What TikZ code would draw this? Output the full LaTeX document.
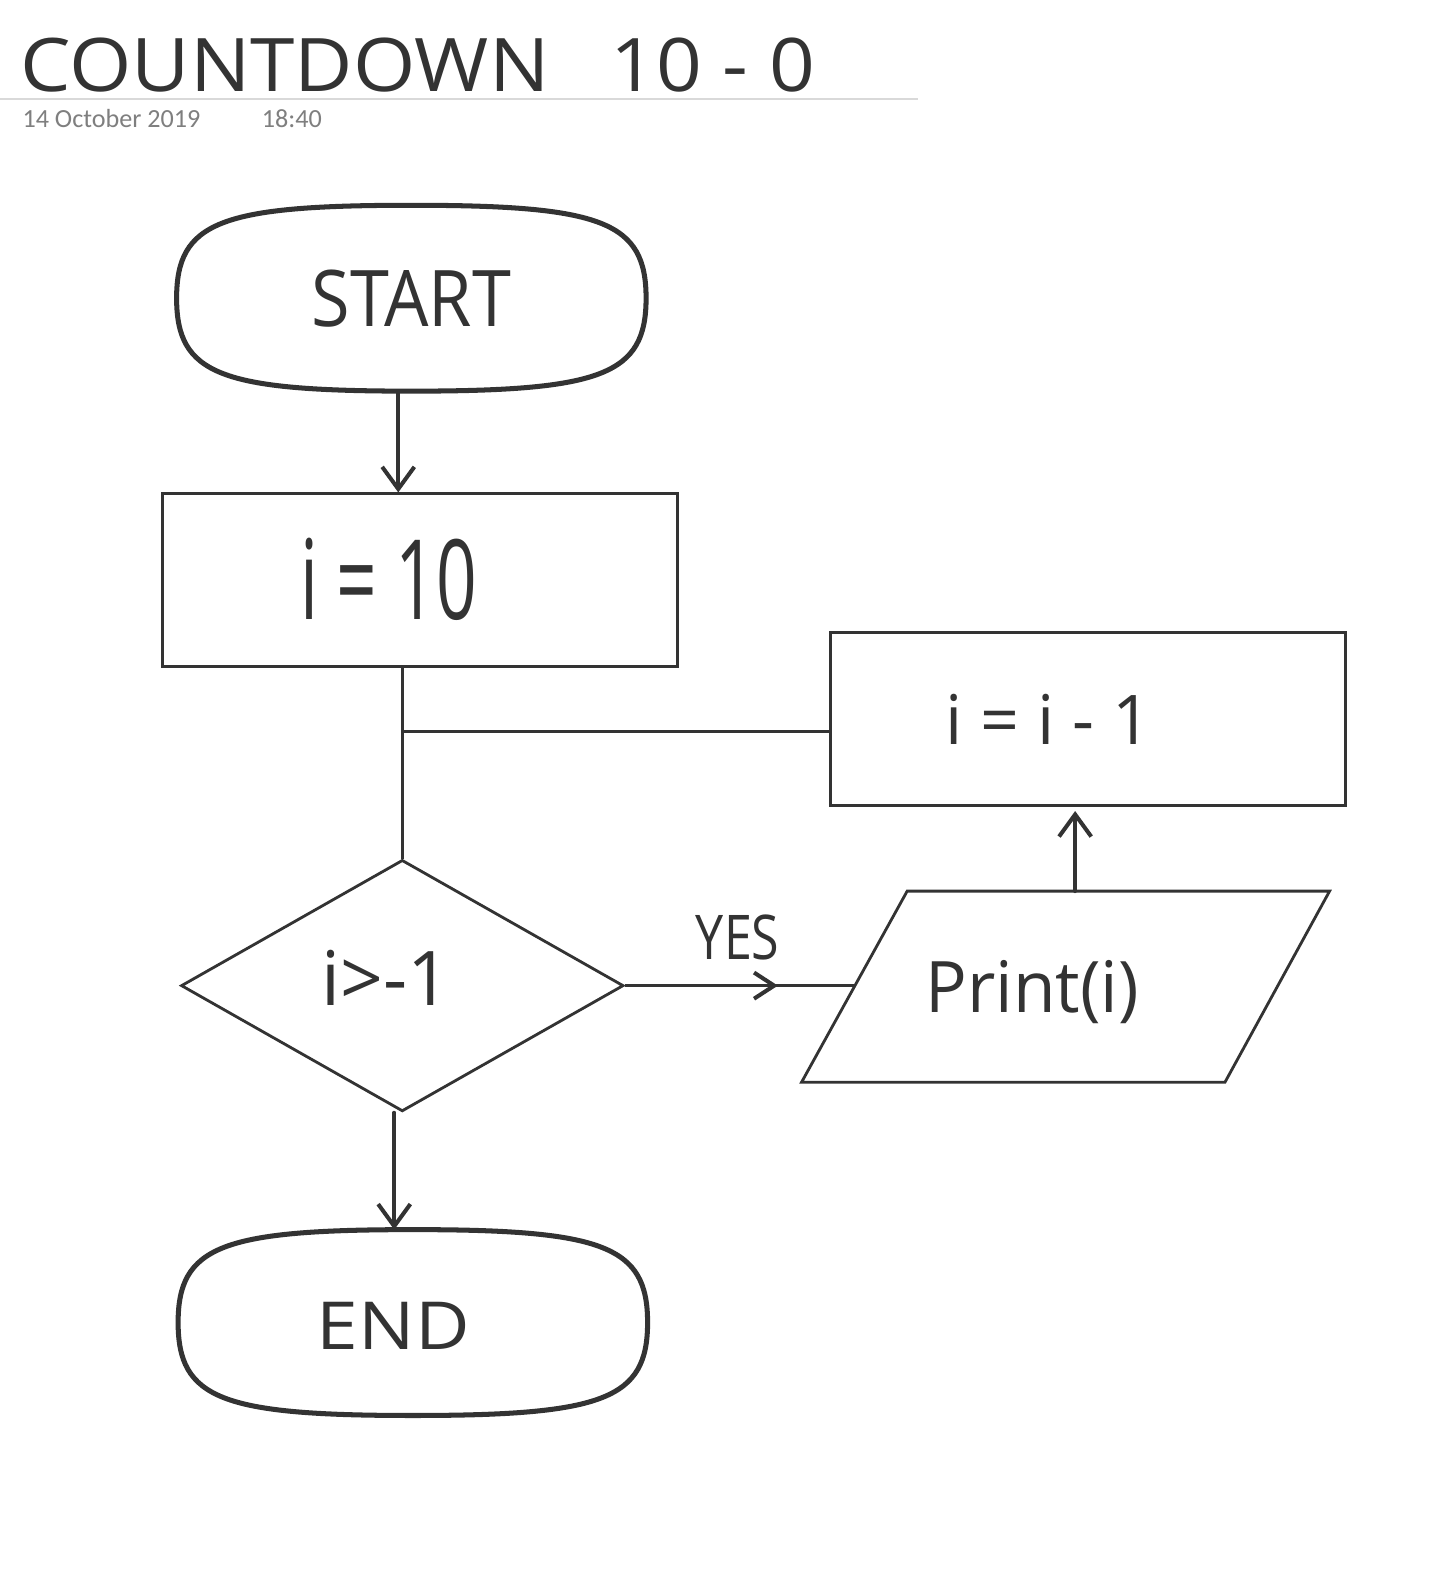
\documentclass[tikz,border=0pt]{standalone}
\usepackage{fontspec}
\setmainfont{Open Sans}
\newfontfamily\datefont{Carlito}
\usetikzlibrary{shapes.geometric,arrows.meta,decorations.markings}
\definecolor{ink}{HTML}{333333}
\definecolor{rulegrey}{HTML}{D9D9D9}
\definecolor{dategrey}{HTML}{7F7F7F}
\tikzset{
  term/.style={minimum width=233pt,minimum height=92pt,inner sep=0pt},
  termline/.style={draw=ink,line width=2.5pt,line join=round},
  procbox/.style={draw=ink,line width=1.4pt,minimum width=256pt,minimum height=86pt,inner sep=0pt},
  decbox/.style={draw=ink,line width=1.4pt,diamond,aspect=1.76,minimum width=220pt,minimum height=125pt,inner sep=0pt},
  iobox/.style={draw=ink,line width=1.4pt,line join=miter},
  hand/.style={text=ink,inner sep=0pt,anchor=center},
  conn/.style={draw=ink,line width=1.4pt},
  penarr/.style={draw=ink,line width=2pt,line cap=round,-{Straight Barb[length=11pt,width=16pt,line width=2pt]}},
  midarr/.style={conn,decoration={markings,mark=at position #1 with {\arrow{Straight Barb[length=10pt,width=13pt,line width=2pt]}}},postaction=decorate},
  datetxt/.style={text=dategrey,inner sep=0pt,anchor=base west,font=\datefont\fontsize{13}{15}\selectfont}
}
\newcommand\termpath[1]{%
  \draw[termline] (#1.west) .. controls ([yshift=38pt]#1.west) and ([xshift=-95pt]#1.north) .. (#1.north)
    .. controls ([xshift=95pt]#1.north) and ([yshift=38pt]#1.east) .. (#1.east)
    .. controls ([yshift=-38pt]#1.east) and ([xshift=95pt]#1.south) .. (#1.south)
    .. controls ([xshift=-95pt]#1.south) and ([yshift=-38pt]#1.west) .. cycle;}
\begin{document}
\begin{tikzpicture}[x=0.5pt,y=-0.5pt]
\useasboundingbox[fill=white] (0,0) rectangle (1431,1568);

% header
\node[hand,anchor=west] (title) at (20,65) {\resizebox*{395pt}{27pt}{COUNTDOWN\hspace{0.5em} 10 - 0}};
\coordinate (ruleL) at (0,98);
\coordinate (ruleR) at (913,98);
\draw[rulegrey,line width=1pt] (ruleL) -- (ruleR);
\node[datetxt] (date) at (22,127) {14 October 2019};
\node[datetxt] (time) at (260,127) {18:40};

% shapes
\node[term] (start) at (409,296.5) {};
\termpath{start}
\node[procbox] (init) at (417.5,577) {};
\node[procbox] (dec) at (1082,715) {};
\node[decbox] (dia) at (400,980) {};
\node[term] (end) at (410.5,1315) {};
\termpath{end}
% parallelogram (print)
\coordinate (pTL) at (902,886);
\coordinate (pTR) at (1322,886);
\coordinate (pBR) at (1218,1076);
\coordinate (pBL) at (797,1076);
\coordinate (pIn) at (850,980);
\coordinate (pOut) at (1069,886);
\draw[iobox] (pTL) -- (pTR) -- (pBR) -- (pBL) -- cycle;

% texts
\node[hand] (tstart) at (409,296.5) {\resizebox*{99pt}{28.5pt}{START}};
\node[hand] (tinit) at (386.5,576) {\resizebox*{88pt}{41pt}{i = 10}};
\node[hand] (tdec) at (1042.5,715) {\resizebox*{102pt}{25pt}{i = i - 1}};
\node[hand] (tdia) at (384,972.5) {\resizebox*{64pt}{27.5pt}{i>-1}};
\node[hand] (tprint) at (1026.5,986.5) {\resizebox*{106pt}{31.5pt}{Print(i)}};
\node[hand] (tend) at (391,1318.5) {\resizebox*{76pt}{23.5pt}{END}};
\node[hand] (tyes) at (733.5,932.5) {\resizebox*{41.5pt}{22.5pt}{YES}};

% connectors
\draw[penarr] ([xshift=-6.5pt]start.south) -- ([xshift=-6.5pt]start.south |- init.north);
\draw[conn] (init.south -| dia.north) -- (dia.north);
\draw[conn] ([yshift=-6pt]dec.west) -- ([yshift=-6pt]dec.west -| dia.north);
\draw[penarr] (pOut) -- ([yshift=-2pt]pOut |- dec.south);
\draw[midarr=0.665] (dia.east) -- (pIn);
\draw[penarr] ([xshift=-4pt]dia.south) -- ([xshift=-4pt]dia.south |- end.north);
\end{tikzpicture}
\end{document}
